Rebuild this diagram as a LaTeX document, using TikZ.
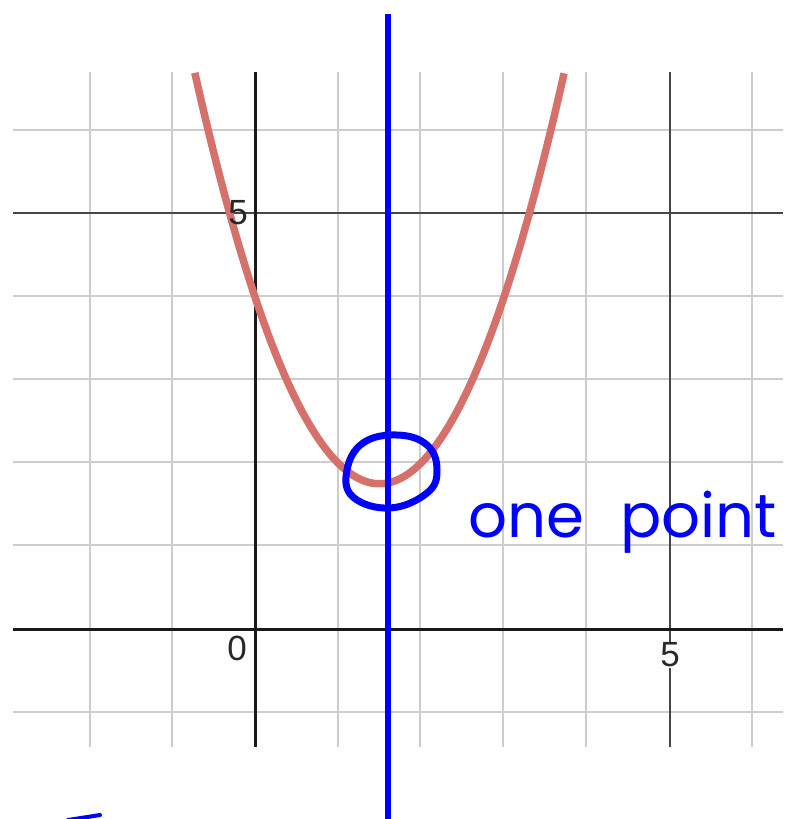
\documentclass[tikz,border=0pt]{standalone}
\usepackage{fontspec}
\setmainfont{Liberation Sans}
\newfontfamily\handfont{Poppins}
\definecolor{minorgrid}{RGB}{205,205,205}
\definecolor{majorgrid}{RGB}{70,70,70}
\definecolor{curvered}{RGB}{214,112,106}
\definecolor{labelgray}{RGB}{40,40,40}
\begin{document}
\begin{tikzpicture}[x=1pt,y=-1pt,
  minorline/.style={draw=minorgrid,line width=1.5pt},
  majorline/.style={draw=majorgrid,line width=1.8pt},
  axisline/.style={draw=black!90,line width=3pt},
  curveline/.style={draw=curvered,line width=7.5pt},
  handline/.style={draw=blue,line width=7pt,line cap=round,line join=round},
  lbl/.style={text=labelgray,font=\fontsize{35}{35}\selectfont,inner sep=1pt}]
\useasboundingbox[fill=white] (0,0) rectangle (785,819);
% minor grid
\foreach \xx in {90,172,338,420,503,586,752} \draw[minorline] (\xx,72) -- (\xx,747);
\foreach \yy in {130,296,379,462,545,712} \draw[minorline] (13,\yy) -- (783,\yy);
% major grid
\draw[majorline] (670,72) -- (670,747);
\draw[majorline] (13,213) -- (783,213);
% axes
\draw[axisline] (255,72) -- (255,747);
\draw[axisline] (13,629) -- (783,629);
% parabola y = x^2 - 3x + 4
\draw[curveline] plot[domain=-0.725:3.725,samples=120,smooth] ({255+83*\x},{629-83*((\x)*(\x)-3*(\x)+4)});
% labels
\node[lbl] (l0) at (237,648) {0};
\node[lbl,fill=white] (l5x) at (670,655) {5};
\node[lbl,anchor=east] (l5y) at (249,213) {5};
% blue vertical line
\draw[handline,line width=6.5pt,line cap=butt] (388,14) -- (388,819);
% hand-drawn circle
\draw[handline] plot[smooth cycle,tension=0.7] coordinates {(347,470) (363,443) (397,435) (427,445) (437,470) (427,493) (390,508) (353,497)};
% text
\node[anchor=base west,text=blue,font=\handfont\fontsize{61}{61}\selectfont,inner sep=0pt] (txt) at (468,537) {one\hspace{36pt}point};
% small stroke bottom-left
\draw[handline,line width=4pt] (68,820) -- (100,815);
\end{tikzpicture}
\end{document}
